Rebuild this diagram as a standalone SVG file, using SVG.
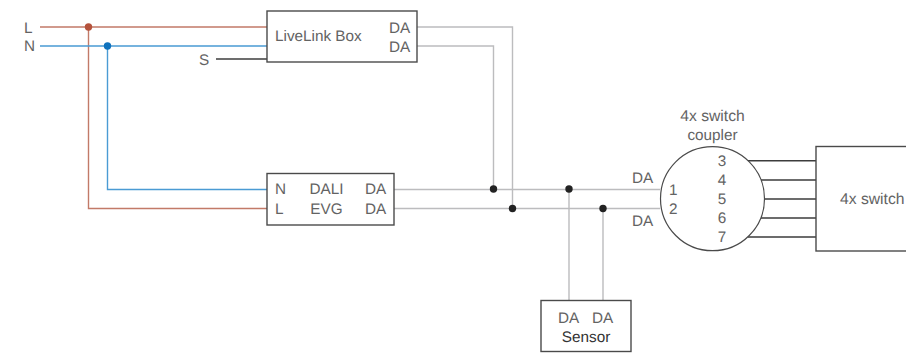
<svg xmlns="http://www.w3.org/2000/svg" width="906" height="354" viewBox="0 0 906 354">
<style>
text{font-family:"Liberation Sans",Arial,sans-serif;font-size:15.300px;fill:#636363;text-rendering:geometricPrecision}
.m{text-anchor:middle}
.sw{font-size:15.700px}
.box{fill:#fff;stroke:#4a4a4a;stroke-width:1.400}
.w{fill:none;stroke-width:1.400}
.red{stroke:#c27a68}
.blue{stroke:#4a9bd4}
.gray{stroke:#bcbcbe}
.blk{stroke:#3c3c3c}
</style>
<rect width="906" height="354" fill="#fff"/>
<g id="connectors">
<path class="w red" d="M40 27H267M88.500 27V208.500H267"/>
<path class="w blue" d="M40 46H267M107.500 46V189.500H267"/>
<path class="w blk" d="M216 59H267"/>
<path class="w gray" d="M417 27H512.500V208.500M417 46H493.500V189.500"/>
<path class="w gray" d="M394 189.500H660M394 208.500H660"/>
<path class="w gray" d="M569 189.500V301M603 208.500V301"/>
<path class="w blk" d="M748 160.700H816M761 180H816M764 199H816M761 218H816M748 237H816"/>
<circle cx="88.500" cy="27" r="3.700" fill="#b5533c"/>
<circle cx="107.500" cy="46" r="3.700" fill="#0f72bd"/>
<circle cx="493.500" cy="189" r="3.700" fill="#222"/>
<circle cx="512.500" cy="208.500" r="3.700" fill="#222"/>
<circle cx="569" cy="189" r="3.700" fill="#222"/>
<circle cx="603" cy="208.500" r="3.700" fill="#222"/>
</g>
<g id="labels-input">
<text x="24" y="33">L</text>
<text x="24" y="51">N</text>
<text x="199" y="65">S</text>
<text x="632" y="183">DA</text>
<text x="632" y="226">DA</text>
</g>
<g id="livelink">
<rect class="box" x="267" y="11" width="150" height="51"/>
<text x="275" y="41">LiveLink Box</text>
<text x="389" y="33">DA</text>
<text x="389" y="52">DA</text>
</g>
<g id="evg">
<rect class="box" x="267" y="173.500" width="127" height="51.500"/>
<text x="275" y="194">N</text>
<text x="275" y="214">L</text>
<text class="m" x="326.500" y="194">DALI</text>
<text class="m" x="326.500" y="214">EVG</text>
<text x="365" y="194">DA</text>
<text x="365" y="214">DA</text>
</g>
<g id="coupler">
<text class="m sw" x="712.500" y="121">4x switch</text>
<text class="m" x="712.500" y="140">coupler</text>
<circle cx="712.500" cy="198.700" r="52" fill="#fff" stroke="#4a4a4a" stroke-width="1.200"/>
<text x="669" y="195">1</text>
<text x="669" y="214">2</text>
<text class="m" x="722" y="166">3</text>
<text class="m" x="722" y="185">4</text>
<text class="m" x="722" y="204">5</text>
<text class="m" x="722" y="223">6</text>
<text class="m" x="722" y="242">7</text>
</g>
<g id="switch">
<rect class="box" x="816" y="146.500" width="100" height="104.500"/>
<text class="sw" x="840" y="204">4x switch</text>
</g>
<g id="sensor">
<rect class="box" x="541" y="300.500" width="90" height="51"/>
<text x="558" y="323">DA</text>
<text x="592" y="323">DA</text>
<text class="m" x="586" y="342" style="fill:#333">Sensor</text>
</g>
</svg>
